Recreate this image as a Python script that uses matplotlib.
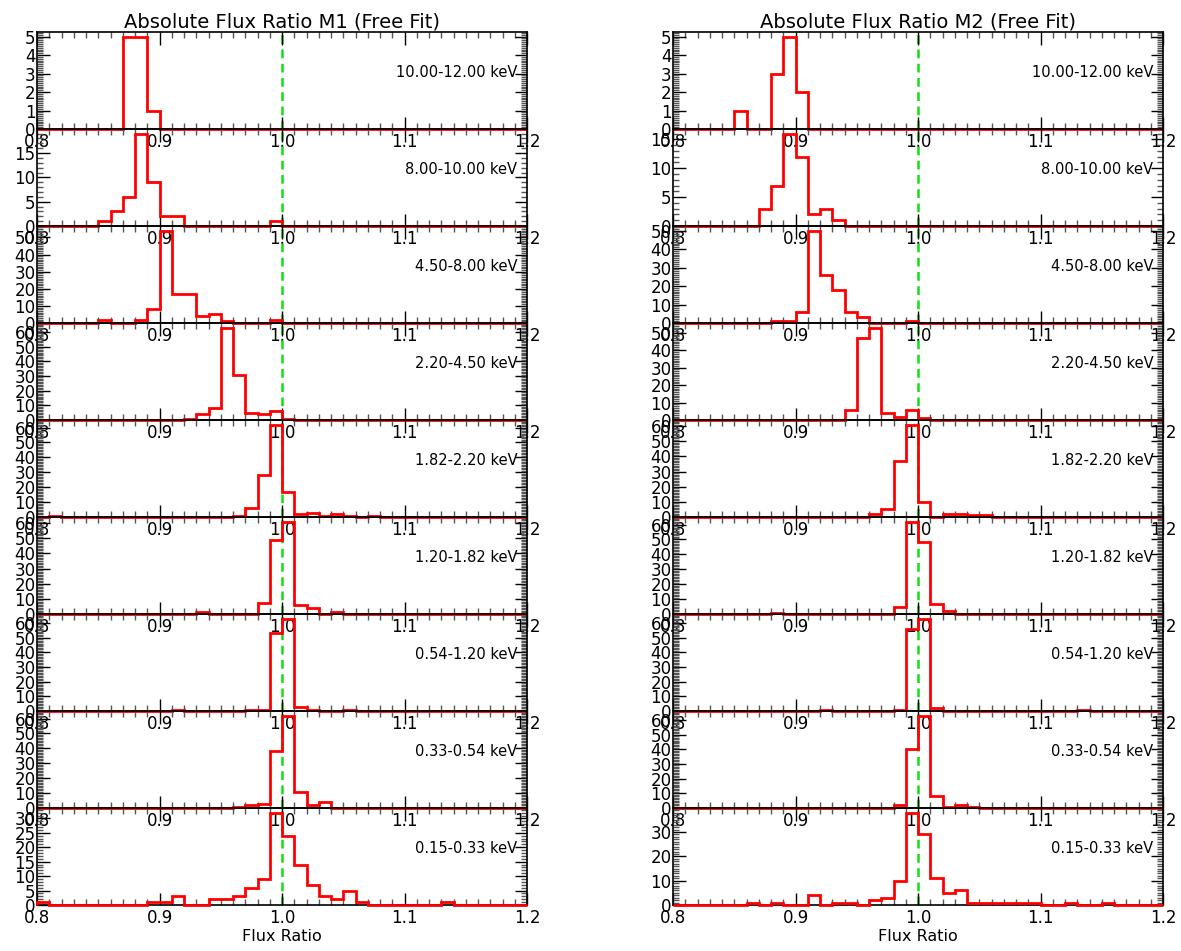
import numpy as np
import matplotlib
matplotlib.use('Agg')
import matplotlib.pyplot as plt
from matplotlib.ticker import MultipleLocator, AutoMinorLocator

# histogram bins: 0.80 .. 1.20 in steps of 0.01, counts given as (bin start, count)
bin_edges = np.round(np.arange(0.80, 1.2001, 0.01), 2)

bands = ['10.00-12.00 keV', '8.00-10.00 keV', '4.50-8.00 keV', '2.20-4.50 keV',
         '1.82-2.20 keV', '1.20-1.82 keV', '0.54-1.20 keV', '0.33-0.54 keV',
         '0.15-0.33 keV']

# M1 free fit
m1_10_12 = [(0.87, 5), (0.88, 5), (0.89, 1)]
m1_8_10 = [(0.85, 1), (0.86, 3), (0.87, 6), (0.88, 19), (0.89, 9), (0.90, 2),
           (0.91, 2), (0.99, 1)]
m1_45_8 = [(0.85, 2), (0.88, 2), (0.89, 8), (0.90, 54), (0.91, 17), (0.92, 17),
           (0.93, 4), (0.94, 5), (0.95, 1), (0.99, 2)]
m1_22_45 = [(0.92, 1), (0.93, 4), (0.94, 8), (0.95, 63), (0.96, 31), (0.97, 5),
            (0.98, 4), (0.99, 6), (1.00, 1)]
m1_182_22 = [(0.81, 1), (0.96, 1), (0.97, 6), (0.98, 28), (0.99, 62), (1.00, 17),
             (1.01, 2), (1.02, 3), (1.03, 1), (1.04, 2), (1.05, 1), (1.07, 1)]
m1_12_182 = [(0.93, 1), (0.98, 7), (0.99, 49), (1.00, 61), (1.01, 6), (1.02, 4),
             (1.04, 1)]
m1_054_12 = [(0.91, 1), (0.97, 1), (0.98, 1), (0.99, 53), (1.00, 63), (1.01, 3),
             (1.02, 1), (1.05, 1)]
m1_033_054 = [(0.96, 1), (0.97, 2), (0.98, 3), (0.99, 38), (1.00, 62), (1.01, 11),
              (1.02, 2), (1.03, 4)]
m1_015_033 = [(0.80, 1), (0.89, 1), (0.90, 1), (0.91, 3), (0.94, 2), (0.95, 2),
              (0.96, 3), (0.97, 6), (0.98, 9), (0.99, 32), (1.00, 24), (1.01, 14),
              (1.02, 7), (1.03, 3), (1.04, 2), (1.05, 5), (1.06, 1), (1.13, 1)]

# M2 free fit
m2_10_12 = [(0.85, 1), (0.88, 3), (0.89, 5), (0.90, 2)]
m2_8_10 = [(0.87, 3), (0.88, 7), (0.89, 16), (0.90, 12), (0.91, 2), (0.92, 3),
           (0.93, 1)]
m2_45_8 = [(0.88, 1), (0.89, 1), (0.90, 6), (0.91, 50), (0.92, 26), (0.93, 18),
           (0.94, 6), (0.95, 3), (0.99, 1)]
m2_22_45 = [(0.94, 6), (0.95, 47), (0.96, 53), (0.97, 4), (0.98, 2), (0.99, 6),
            (1.00, 1)]
m2_182_22 = [(0.96, 2), (0.97, 5), (0.98, 37), (0.99, 61), (1.00, 10), (1.02, 2),
             (1.03, 2), (1.04, 1), (1.05, 1)]
m2_12_182 = [(0.88, 1), (0.98, 5), (0.99, 62), (1.00, 48), (1.01, 7), (1.02, 2)]
m2_054_12 = [(0.92, 1), (0.98, 1), (0.99, 56), (1.00, 63), (1.01, 2), (1.13, 1)]
m2_033_054 = [(0.98, 2), (0.99, 40), (1.00, 63), (1.01, 8), (1.02, 1), (1.03, 2),
              (1.04, 1)]
m2_015_033 = [(0.86, 1), (0.88, 1), (0.91, 4), (0.93, 1), (0.94, 1), (0.96, 2),
              (0.97, 3), (0.98, 10), (0.99, 38), (1.00, 29), (1.01, 11), (1.02, 5),
              (1.03, 6), (1.04, 1), (1.05, 1), (1.06, 1), (1.07, 1), (1.08, 1),
              (1.09, 1), (1.12, 1), (1.15, 1)]

m1_panels = [m1_10_12, m1_8_10, m1_45_8, m1_22_45, m1_182_22, m1_12_182,
             m1_054_12, m1_033_054, m1_015_033]
m2_panels = [m2_10_12, m2_8_10, m2_45_8, m2_22_45, m2_182_22, m2_12_182,
             m2_054_12, m2_033_054, m2_015_033]

m1_ystep = [1, 5, 10, 10, 10, 10, 10, 10, 5]
m2_ystep = [1, 5, 10, 10, 10, 10, 10, 10, 10]


def to_counts(pairs):
    counts = np.zeros(len(bin_edges) - 1)
    for x, c in pairs:
        counts[int(round((x - 0.80) / 0.01))] = c
    return counts


W, H = 1181, 951
plt.rcParams['font.family'] = 'DejaVu Sans'
fig = plt.figure(figsize=(W / 100, H / 100), dpi=100)

col_x = [37, 673]
col_w = 490
top, ph = 32, 97

columns = [(m1_panels, m1_ystep, 'Absolute Flux Ratio M1 (Free Fit)'),
           (m2_panels, m2_ystep, 'Absolute Flux Ratio M2 (Free Fit)')]

for ci, (panels, ysteps, title) in enumerate(columns):
    for i, pairs in enumerate(panels):
        y0 = top + ph * (i + 1)
        ax = fig.add_axes([col_x[ci] / W, 1 - y0 / H, col_w / W, ph / H])
        ax.patch.set_visible(False)
        counts = to_counts(pairs)
        ymax = counts.max() * 1.05

        ax.axvline(1.0, color='#10e010', lw=1.8, ls=(0, (3.5, 2.2)), zorder=1)
        ax.stairs(counts, bin_edges, baseline=0, color='#ff0000', lw=2.0,
                  zorder=3, clip_on=False)

        ax.set_xlim(0.8, 1.2)
        ax.set_ylim(0, ymax)
        ax.xaxis.set_major_locator(MultipleLocator(0.1))
        ax.xaxis.set_minor_locator(MultipleLocator(0.01))
        ax.yaxis.set_major_locator(MultipleLocator(ysteps[i]))
        ax.yaxis.set_minor_locator(AutoMinorLocator(5 if ysteps[i] == 5 else 10))
        ax.xaxis.set_major_formatter(plt.FormatStrFormatter('%.1f'))
        ax.tick_params(which='both', direction='in', top=True, right=True,
                       labelsize=12, width=1)
        ax.tick_params(which='major', length=9, pad=3)
        ax.tick_params(which='minor', length=4, color='#555555')
        ax.tick_params(axis='y', pad=1)
        for sp in ax.spines.values():
            sp.set_linewidth(1.2)

        ax.text(1.192, ymax * 0.58, bands[i], ha='right', va='center',
                fontsize=10.5)

        if i == 0:
            ax.set_title(title, fontsize=14, pad=3)
        if i == len(panels) - 1:
            ax.set_xlabel('Flux Ratio', fontsize=11.5, labelpad=1)

fig.savefig('out.png', dpi=100)
